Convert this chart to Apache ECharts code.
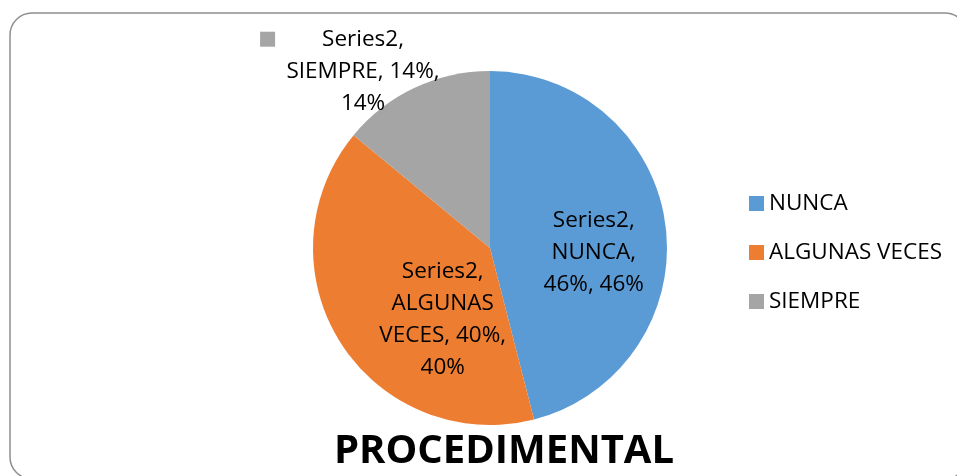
<!DOCTYPE html>
<html>
<head>
<meta charset="utf-8">
<script src="https://cdn.jsdelivr.net/npm/echarts@6/dist/echarts.min.js"></script>
<style>
html, body { margin: 0; padding: 0; background: #fff; }
#main { width: 957px; height: 476px; }
</style>
</head>
<body>
<div id="main"></div>
<script>
// datos del gráfico
var seriesName = 'Series2';
var categories = ['NUNCA', 'ALGUNAS VECES', 'SIEMPRE'];
var values = [46, 40, 14];
var colors = ['#5B9BD5', '#ED7D31', '#A5A5A5'];
var titleText = 'PROCEDIMENTAL';

// ancho de línea (en caracteres) para partir las etiquetas, y si llevan la clave
var wrapChars = [10, 12, 14];
var showKey = [false, false, true];
var labelShift = [[13, 16], [30, 23], [-88, -94]];

function wrap(text, max) {
	var words = text.split(' ');
	var lines = [];
	var cur = '';
	for (var i = 0; i < words.length; i++) {
		var next = cur ? cur + ' ' + words[i] : words[i];
		if (cur && next.length > max) {
			lines.push(cur);
			cur = words[i];
		} else {
			cur = next;
		}
	}
	if (cur) lines.push(cur);
	return lines;
}

var myChart = echarts.init(document.getElementById('main'));

var pieData = [];
for (var i = 0; i < categories.length; i++) {
	pieData.push({ name: categories[i], value: values[i], itemStyle: { color: colors[i] } });
}

var option = {
	backgroundColor: '#fff',
	textStyle: { fontFamily: 'Open Sans' },
	graphic: [{
		type: 'rect',
		shape: { x: 10, y: 13, width: 957, height: 466, r: 22 },
		style: { fill: 'none', stroke: '#8f8f8f', lineWidth: 1.5 },
		silent: true
	}],
	title: {
		text: titleText,
		left: 499,
		top: 427,
		textAlign: 'center',
		textStyle: { fontFamily: 'Open Sans', fontWeight: 'bold', fontSize: 40, color: '#000' }
	},
	legend: {
		orient: 'vertical',
		left: 744,
		top: 187,
		itemWidth: 15,
		itemHeight: 15,
		itemGap: 26,
		icon: 'rect',
		data: categories,
		textStyle: { fontFamily: 'Open Sans', fontSize: 22.5, color: '#000', lineHeight: 22 }
	},
	series: [{
		name: seriesName,
		type: 'pie',
		center: [490, 248],
		radius: 177,
		startAngle: 90,
		clockwise: true,
		avoidLabelOverlap: false,
		itemStyle: { borderWidth: 0 },
		label: {
			show: true,
			position: 'inside',
			color: '#000',
			fontFamily: 'Open Sans',
			fontSize: 22.5,
			lineHeight: 32,
			align: 'center',
			formatter: function (p) {
				var txt = p.seriesName + ', ' + p.name + ', ' + p.percent + '%, ' + p.percent + '%';
				var lines = wrap(txt, wrapChars[p.dataIndex]);
				if (showKey[p.dataIndex]) {
					lines[0] = '{sq|}{sp|}{t|' + lines[0] + '}{sp2|}';
					for (var k = 1; k < lines.length; k++) lines[k] = '{t|' + lines[k] + '}';
				}
				return lines.join('\n');
			},
			rich: {
				sq: { width: 15, height: 15, backgroundColor: '#A5A5A5' },
				sp: { width: 47 },
				sp2: { width: 62 },
				t: { fontFamily: 'Open Sans', fontSize: 22.5, lineHeight: 32, color: '#000' }
			}
		},
		labelLine: { show: false },
		labelLayout: function (params) {
			var s = labelShift[params.dataIndex];
			return { dx: s[0], dy: s[1] };
		},
		emphasis: { disabled: true },
		data: pieData
	}]
};

myChart.setOption(option);
</script>
</body>
</html>
